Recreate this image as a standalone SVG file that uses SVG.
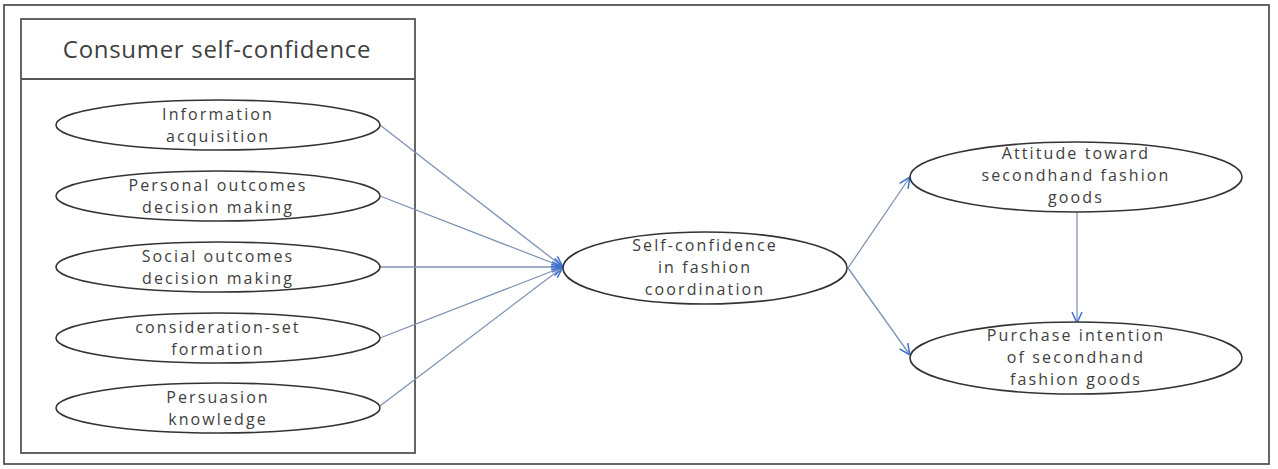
<svg xmlns="http://www.w3.org/2000/svg" width="1278" height="469" viewBox="0 0 1278 469">
<style>
.frame{fill:none;stroke:#555;stroke-width:1.8}
.node ellipse{fill:#fff;stroke:#333;stroke-width:1.6}
.lbl{font-family:"Open Sans","Noto Sans",sans-serif;font-size:16px;fill:#404040;text-anchor:middle;letter-spacing:2.1px}
.title{font-family:"Open Sans","Noto Sans",sans-serif;font-size:24px;fill:#404040;text-anchor:middle;letter-spacing:0.7px}
.conn line{stroke:#7f93b3;stroke-width:1.3;fill:none}
</style>
<defs>
<marker id="ah" markerWidth="14" markerHeight="12" refX="12" refY="6" orient="auto" markerUnits="userSpaceOnUse">
<path d="M1,1 L12,6 L1,11" fill="none" stroke="#3d6fd6" stroke-width="1.5"/>
</marker>
</defs>
<rect class="frame" x="4" y="5" width="1265" height="459"/>
<g id="consumer-self-confidence">
<rect class="frame" x="21" y="19" width="394" height="434"/>
<line class="frame" x1="21" y1="79" x2="415" y2="79"/>
<text class="title" x="217" y="58">Consumer self-confidence</text>
</g>
<g class="conn" id="connectors">
<line x1="380" y1="125" x2="563" y2="267" marker-end="url(#ah)"/>
<line x1="380" y1="196" x2="563" y2="267" marker-end="url(#ah)"/>
<line x1="380" y1="267" x2="563" y2="267" marker-end="url(#ah)"/>
<line x1="380" y1="338" x2="563" y2="267" marker-end="url(#ah)"/>
<line x1="380" y1="406" x2="563" y2="267" marker-end="url(#ah)"/>
<line x1="848" y1="268" x2="910" y2="177" marker-end="url(#ah)"/>
<line x1="848" y1="268" x2="910" y2="355" marker-end="url(#ah)"/>
<line x1="1077" y1="212" x2="1077" y2="323" marker-end="url(#ah)"/>
</g>
<g class="node" id="n-info">
<ellipse cx="218" cy="125" rx="162" ry="25"/>
<text class="lbl" x="218" y="120">Information</text>
<text class="lbl" x="218" y="142">acquisition</text>
</g>
<g class="node" id="n-personal">
<ellipse cx="218" cy="196" rx="162" ry="25"/>
<text class="lbl" x="218" y="191">Personal outcomes</text>
<text class="lbl" x="218" y="213">decision making</text>
</g>
<g class="node" id="n-social">
<ellipse cx="218" cy="267" rx="162" ry="25"/>
<text class="lbl" x="218" y="262">Social outcomes</text>
<text class="lbl" x="218" y="284">decision making</text>
</g>
<g class="node" id="n-consideration">
<ellipse cx="218" cy="338" rx="162" ry="25"/>
<text class="lbl" x="218" y="333">consideration-set</text>
<text class="lbl" x="218" y="355">formation</text>
</g>
<g class="node" id="n-persuasion">
<ellipse cx="218" cy="408" rx="162" ry="25"/>
<text class="lbl" x="218" y="403">Persuasion</text>
<text class="lbl" x="218" y="425">knowledge</text>
</g>
<g class="node" id="n-selfconf">
<ellipse cx="705" cy="268" rx="142" ry="36"/>
<text class="lbl" x="705" y="251">Self-confidence</text>
<text class="lbl" x="705" y="273">in fashion</text>
<text class="lbl" x="705" y="295">coordination</text>
</g>
<g class="node" id="n-attitude">
<ellipse cx="1076" cy="177" rx="166" ry="35"/>
<text class="lbl" x="1076" y="159">Attitude toward</text>
<text class="lbl" x="1076" y="181">secondhand fashion</text>
<text class="lbl" x="1076" y="203">goods</text>
</g>
<g class="node" id="n-purchase">
<ellipse cx="1076" cy="358" rx="166" ry="36"/>
<text class="lbl" x="1076" y="341">Purchase intention</text>
<text class="lbl" x="1076" y="363">of secondhand</text>
<text class="lbl" x="1076" y="385">fashion goods</text>
</g>
</svg>
